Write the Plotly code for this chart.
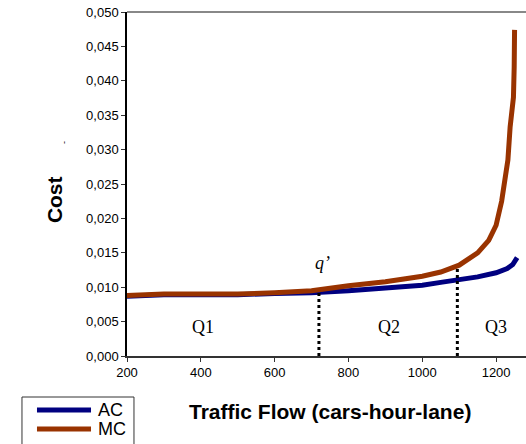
import plotly.graph_objects as go

# ---- data ----
ac_x = [200, 300, 400, 500, 600, 700, 800, 900, 1000, 1050, 1100, 1150, 1200, 1230, 1245, 1257]
ac_y = [0.0087, 0.0089, 0.0089, 0.0089, 0.0091, 0.0092, 0.0095, 0.0099, 0.0103, 0.0107,
        0.0111, 0.0115, 0.0121, 0.0127, 0.0133, 0.0143]

mc_x = [200, 300, 400, 500, 600, 700, 800, 900, 1000, 1050, 1100, 1150, 1180, 1200, 1215,
        1225, 1232, 1238, 1247, 1249, 1250]
mc_y = [0.0088, 0.0090, 0.0090, 0.0090, 0.0092, 0.0095, 0.0102, 0.0108, 0.0116, 0.0122,
        0.0132, 0.0150, 0.0168, 0.0190, 0.0225, 0.0255, 0.0285, 0.0333, 0.0376, 0.0420, 0.0474]

q_prime_x = 720
q_prime_top = 0.0093
q3_split_x = 1095
q3_split_top = 0.0130

region_labels = ["Q1", "Q2", "Q3"]
region_x = [405, 911, 1200]
region_y = 0.0042

y_ticks = [0.000, 0.005, 0.010, 0.015, 0.020, 0.025, 0.030, 0.035, 0.040, 0.045, 0.050]
x_ticks = [200, 400, 600, 800, 1000, 1200]

AC_COLOR = "#000080"
MC_COLOR = "#993300"

fig = go.Figure()
fig.add_trace(go.Scatter(x=ac_x, y=ac_y, mode="lines", name="AC",
                         line=dict(color=AC_COLOR, width=5), showlegend=False))
fig.add_trace(go.Scatter(x=mc_x, y=mc_y, mode="lines", name="MC",
                         line=dict(color=MC_COLOR, width=5), showlegend=False))
fig.add_trace(go.Scatter(x=[q_prime_x, q_prime_x], y=[0, q_prime_top], mode="lines",
                         line=dict(color="black", width=3, dash="dot"), showlegend=False))
fig.add_trace(go.Scatter(x=[q3_split_x, q3_split_x], y=[0, q3_split_top], mode="lines",
                         line=dict(color="black", width=3, dash="dot"), showlegend=False))

serif = dict(family="Liberation Serif", size=18, color="black")
for lab, xv in zip(region_labels, region_x):
    fig.add_annotation(x=xv, y=region_y, text=lab, showarrow=False, font=serif,
                       xanchor="center", yanchor="middle")
fig.add_annotation(x=730, y=0.0135, text="<i>q’</i>", showarrow=False, font=serif,
                   xanchor="center", yanchor="middle")

sans = "Liberation Sans"
# axis titles
fig.add_annotation(xref="paper", yref="paper", x=-0.183, y=0.456, text="<b>Cost</b>",
                   textangle=-90, showarrow=False, xanchor="center", yanchor="middle",
                   font=dict(family=sans, size=21, color="black"))
fig.add_annotation(xref="paper", yref="paper", x=0.509, y=-0.160,
                   text="<b>Traffic Flow (cars-hour-lane)</b>", showarrow=False,
                   xanchor="center", yanchor="middle",
                   font=dict(family=sans, size=21, color="black"))
fig.add_annotation(xref="paper", yref="paper", x=-0.158, y=0.622, text="-",
                   textangle=-90, showarrow=False, xanchor="center", yanchor="middle",
                   font=dict(family=sans, size=9, color="black"))

# legend (drawn)
fig.add_shape(type="rect", xref="paper", yref="paper", x0=-0.2632, x1=0.0175,
              y0=-0.30, y1=-0.1192, line=dict(color="#333333", width=1), fillcolor="white")
for name, col, yy in [("AC", AC_COLOR, -0.157), ("MC", MC_COLOR, -0.212)]:
    fig.add_shape(type="line", xref="paper", yref="paper", x0=-0.2256, x1=-0.0902,
                  y0=yy, y1=yy, line=dict(color=col, width=5))
    fig.add_annotation(xref="paper", yref="paper", x=-0.0777, y=yy, text=name,
                       xanchor="left", yanchor="middle", showarrow=False,
                       font=dict(family=sans, size=18, color="black"))

# top border
fig.add_shape(type="line", xref="paper", yref="paper", x0=0, x1=1, y0=1, y1=1,
              line=dict(color="#888888", width=2))

fig.update_layout(
    width=526, height=444,
    margin=dict(l=127, r=0, t=12, b=88),
    paper_bgcolor="white", plot_bgcolor="white",
    separators=",.",
    showlegend=False,
    font=dict(family=sans, size=12, color="black"),
)
fig.update_xaxes(range=[200, 1281], tickvals=x_ticks, ticks="outside", ticklen=4,
                 tickcolor="#333333", showline=True, linecolor="#333333", linewidth=1.5,
                 showgrid=False, zeroline=False, tickfont=dict(size=13))
fig.update_yaxes(range=[0, 0.050], tickvals=y_ticks, tickformat=".3f", ticks="outside",
                 ticklen=4, tickcolor="#333333", showline=True, linecolor="black",
                 linewidth=1.5, showgrid=False, zeroline=False, tickfont=dict(size=13))

fig.write_html(
    "out.html",
    config={"displayModeBar": False},
    post_script="document.body.style.margin='0';document.body.style.overflow='hidden';",
)
